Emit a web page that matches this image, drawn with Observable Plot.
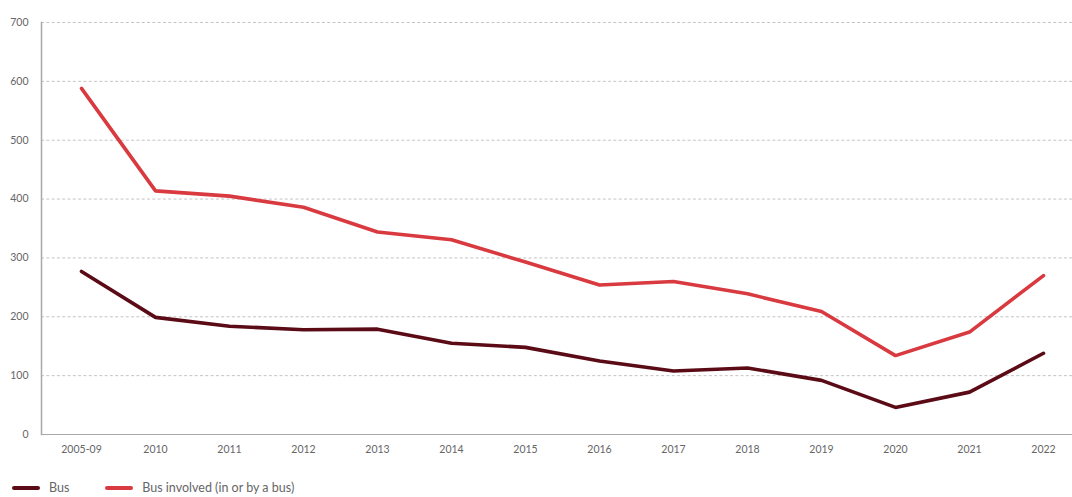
<!DOCTYPE html>
<html>
<head>
<meta charset="utf-8">
<script src="https://cdn.jsdelivr.net/npm/d3@7"></script>
<script src="https://cdn.jsdelivr.net/npm/@observablehq/plot@0.6"></script>
<style>
  html, body { margin: 0; padding: 0; background: #fff; overflow: hidden; }
  body { font-family: Lato, "Open Sans", sans-serif; width: 1072px; height: 497px; }
  .legend { display: flex; align-items: center; margin-top: 11px; margin-left: 12px; font-size: 12.5px; line-height: 14px; color: #666; }
  .legend .item { display: flex; align-items: center; }
  .legend .sw { display: inline-block; width: 28px; height: 4px; border-radius: 2px; margin-right: 9px; }
</style>
</head>
<body>
<div id="chart"></div>
<script>
const categories = ["2005-09","2010","2011","2012","2013","2014","2015","2016","2017","2018","2019","2020","2021","2022"];
const busSeries = [277, 199, 184, 178, 179, 155, 148, 125, 108, 113, 92, 46, 72, 138];
const involvedSeries = [588, 414, 405, 386, 344, 331, 293, 254, 260, 239, 209, 134, 174, 270];
const yTicks = [0, 100, 200, 300, 400, 500, 600, 700];
const seriesNames = ["Bus", "Bus involved (in or by a bus)"];
const seriesColors = ["#5b0b16", "#d83a40"];

const rows = [];
categories.forEach((c, i) => {
  rows.push({cat: c, value: busSeries[i], series: seriesNames[0]});
  rows.push({cat: c, value: involvedSeries[i], series: seriesNames[1]});
});

const chart = Plot.plot({
  width: 1072,
  height: 470,
  marginLeft: 41,
  marginRight: 0,
  marginTop: 22,
  marginBottom: 36,
  style: {fontFamily: "Lato, 'Open Sans', sans-serif", background: "#fff"},
  x: {type: "point", domain: categories, range: [78, 1045], padding: 0},
  y: {domain: [0, 700]},
  color: {domain: seriesNames, range: seriesColors},
  marks: [
    Plot.ruleY(yTicks.filter(d => d > 0), {stroke: "#c4c4c4", strokeDasharray: "3,2.3", strokeWidth: 1}),
    Plot.ruleY([0], {stroke: "#a8a8a8", strokeWidth: 1.2}),
    Plot.frame({anchor: "left", stroke: "#a8a8a8", strokeWidth: 1.5}),
    Plot.axisY({ticks: yTicks, tickSize: 0, tickPadding: 13, fontSize: 10.5, fill: "#666", label: null}),
    Plot.axisX({tickSize: 0, tickPadding: 11, fontSize: 10.5, fill: "#666", label: null}),
    Plot.line(rows, {x: "cat", y: "value", z: "series", stroke: "series", strokeWidth: 3.6, strokeLinejoin: "miter", strokeLinecap: "round"})
  ]
});
document.getElementById("chart").appendChild(chart);

const legend = document.createElement("div");
legend.className = "legend";
seriesNames.forEach((name, i) => {
  const item = document.createElement("div");
  item.className = "item";
  item.style.marginRight = i === 0 ? "36px" : "0";
  const sw = document.createElement("span");
  sw.className = "sw";
  sw.style.background = seriesColors[i];
  const t = document.createElement("span");
  t.textContent = name;
  item.appendChild(sw);
  item.appendChild(t);
  legend.appendChild(item);
});
document.body.appendChild(legend);
</script>
</body>
</html>
